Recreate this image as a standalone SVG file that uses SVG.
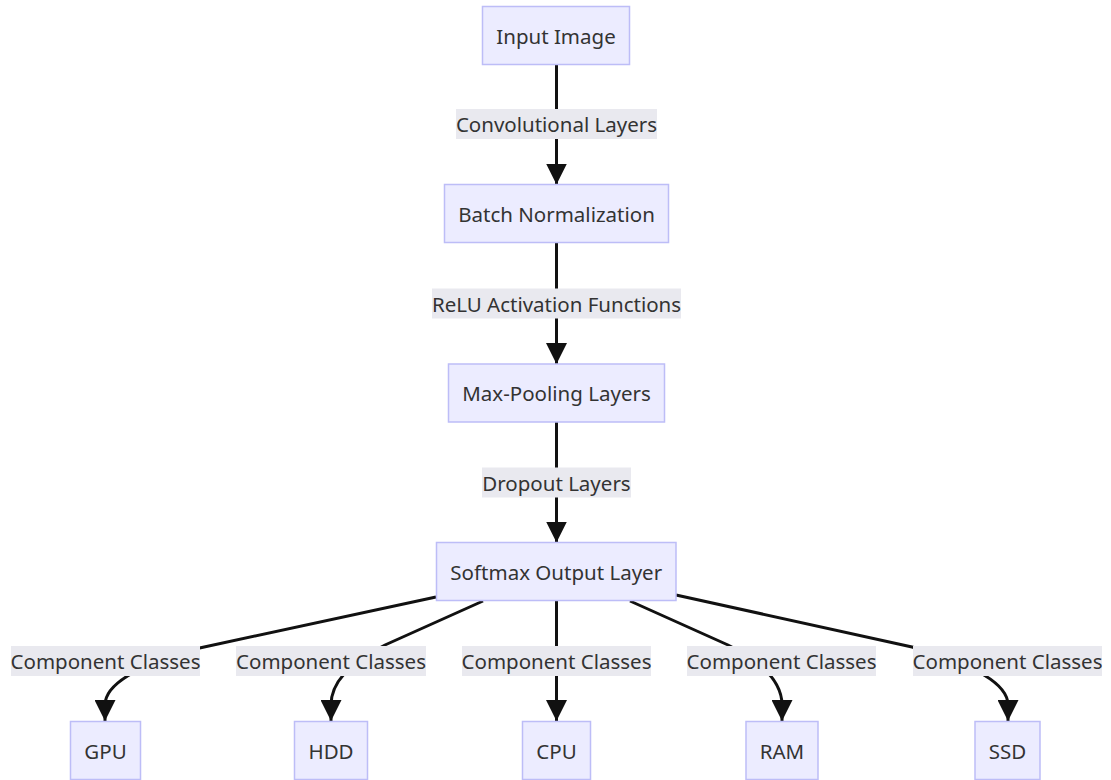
<svg xmlns="http://www.w3.org/2000/svg" width="1111" height="780" viewBox="0 0 1111 780">
<style>
.node rect{fill:#ECECFF;stroke:#BDBDF7;stroke-width:1.5}
text{font-family:"Noto Sans","Open Sans","DejaVu Sans",sans-serif;font-size:20.5px;fill:#333;text-anchor:middle;dominant-baseline:central}
.edge{fill:none;stroke:#111;stroke-width:3;marker-end:url(#arrow)}
.lbl rect{fill:#E9E9EF}
</style>
<defs>
<marker id="arrow" viewBox="0 0 10 10" refX="10" refY="5" markerWidth="21" markerHeight="21" markerUnits="userSpaceOnUse" orient="auto">
<path d="M0,0 L10,5 L0,10 z" fill="#111"/>
</marker>
</defs>
<rect width="1111" height="780" fill="#fff"/>
<g id="connectors">
<path class="edge" d="M556.5,64.5 L556.5,184.5"/>
<path class="edge" d="M556.5,242.5 L556.5,364"/>
<path class="edge" d="M556.5,422 L556.5,542.5"/>
<path class="edge" d="M436,597 L195,649 Q105,675 105,705 L105,721"/>
<path class="edge" d="M483,601 L385,645 Q331,672 331,705 L331,721"/>
<path class="edge" d="M556.5,601 L556.5,721"/>
<path class="edge" d="M630,601 L728,645 Q782,672 782,705 L782,721"/>
<path class="edge" d="M676,595 L912,647 Q1008,674 1008,705 L1008,721"/>
<g class="lbl"><rect x="456" y="109" width="201" height="30"/><text x="556.5" y="124">Convolutional Layers</text></g>
<g class="lbl"><rect x="432" y="288.5" width="249" height="30"/><text x="556.5" y="303.5">ReLU Activation Functions</text></g>
<g class="lbl"><rect x="482" y="467.5" width="149" height="30"/><text x="556.5" y="482.5">Dropout Layers</text></g>
<g class="lbl"><rect x="11" y="646" width="189" height="30"/><text x="105.5" y="661">Component Classes</text></g>
<g class="lbl"><rect x="236" y="646" width="190" height="30"/><text x="331" y="661">Component Classes</text></g>
<g class="lbl"><rect x="462" y="646" width="189" height="30"/><text x="556.5" y="661">Component Classes</text></g>
<g class="lbl"><rect x="687" y="646" width="189" height="30"/><text x="781.5" y="661">Component Classes</text></g>
<g class="lbl"><rect x="913" y="646" width="189" height="30"/><text x="1007.5" y="661">Component Classes</text></g>
</g>
<g id="input" class="node"><rect x="482.5" y="6.5" width="147" height="58"/><text x="556" y="35.5">Input Image</text></g>
<g id="batch" class="node"><rect x="444.5" y="184.5" width="224" height="58"/><text x="556.5" y="213.5">Batch Normalization</text></g>
<g id="maxpool" class="node"><rect x="448.5" y="364" width="216" height="58"/><text x="556.5" y="393">Max-Pooling Layers</text></g>
<g id="softmax" class="node"><rect x="436.5" y="542.5" width="239.5" height="58"/><text x="556.25" y="571.5">Softmax Output Layer</text></g>
<g id="gpu" class="node"><rect x="70.5" y="721.5" width="70" height="58"/><text x="105.5" y="750.5">GPU</text></g>
<g id="hdd" class="node"><rect x="294.5" y="721.5" width="73" height="58"/><text x="331" y="750.5">HDD</text></g>
<g id="cpu" class="node"><rect x="522.5" y="721.5" width="68" height="58"/><text x="556.5" y="750.5">CPU</text></g>
<g id="ram" class="node"><rect x="746" y="721.5" width="72" height="58"/><text x="782" y="750.5">RAM</text></g>
<g id="ssd" class="node"><rect x="975" y="721.5" width="65" height="58"/><text x="1007.5" y="750.5">SSD</text></g>
</svg>
